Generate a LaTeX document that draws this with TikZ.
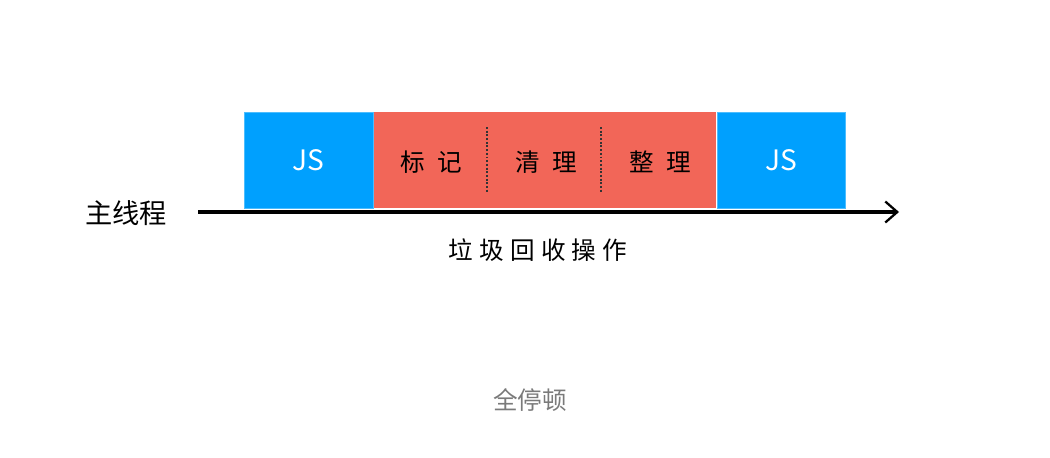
\documentclass[tikz,border=0pt]{standalone}
\usepackage{fontspec}
\setmainfont{Noto Sans CJK SC}
\newfontfamily\handwide[LetterSpace=50]{Noto Sans CJK SC}
\newfontfamily\handnarrow[LetterSpace=25]{Noto Sans CJK SC}
\usetikzlibrary{arrows.meta, positioning}
\definecolor{jsBlue}{HTML}{00A0FE}
\definecolor{gcRed}{HTML}{F26658}
\definecolor{txtGrey}{HTML}{7A7A7A}
\tikzset{
  every picture/.append style = {line width=0.7pt},
  jsbox/.style   = {fill=jsBlue, draw=jsBlue!70!white, line width=0.4pt, minimum width=2.58cm,
                    minimum height=1.92cm, inner sep=0pt, text=white, font=\fontsize{16}{18}\selectfont},
  gcbox/.style   = {fill=gcRed, inner sep=0pt, minimum width=6.84cm, minimum height=1.92cm},
  gclbl/.style   = {font=\handwide\fontsize{14}{16}\selectfont},
  timeline/.style = {-{Straight Barb[length=2.4mm, width=4.2mm, line width=1.3pt]}, line width=1.8pt},
  divider/.style = {densely dotted, line width=1.1pt, black!80},
}
\begin{document}
\begin{tikzpicture}[x=0.02cm, y=-0.02cm]
  \useasboundingbox (0,0) rectangle (1050,457);
  % blocks on the main thread
  \node[jsbox] (js1) at (308.5,160) {JS};
  \node[gcbox, right=0pt of js1] (gc) {};
  \node[jsbox, right=0pt of gc] (js2) {JS};
  % the three phases of the collection
  \node[gclbl] (mark)  at (431,162) {标记};
  \node[gclbl] (sweep) at (546,162) {清理};
  \node[gclbl] (tidy)  at (660,162) {整理};
  \coordinate (d1top) at (487,127);
  \coordinate (d1bot) at (487,192);
  \coordinate (d2top) at (601,127);
  \coordinate (d2bot) at (601,192);
  \draw[divider] (d1top) -- (d1bot);
  \draw[divider] (d2top) -- (d2bot);
  % time axis
  \coordinate (tstart) at (198,212);
  \coordinate (tend) at (899,212);
  \draw[timeline] (tstart) -- (tend);
  \node[font=\fontsize{15.5}{17}\selectfont] (thread) at (126,213) {主线程};
  \node[font=\handnarrow\fontsize{14}{16}\selectfont] (gcop) at (538,250) {垃圾回收操作};
  \node[font=\fontsize{14}{16}\selectfont, text=txtGrey] (stw) at (530,400) {全停顿};
\end{tikzpicture}
\end{document}
